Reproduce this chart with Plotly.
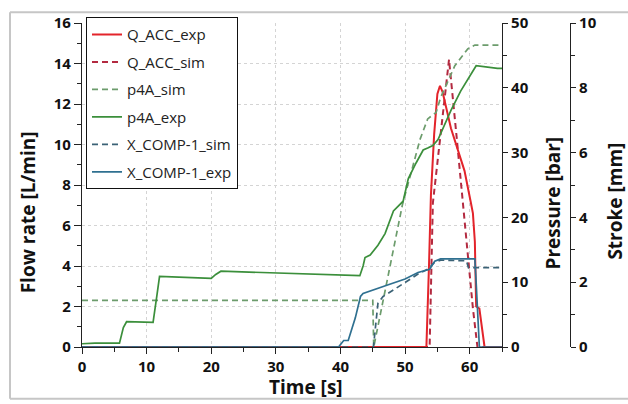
import plotly.graph_objects as go

# ---------------- data ----------------
q_acc_exp_t = [0, 53.3, 53.7, 54.0, 54.5, 55.0, 55.4, 55.8, 57.1, 58.2, 59.2, 60.2, 60.5, 60.8, 61.0, 61.5, 62.0, 62.3, 65]
q_acc_exp = [0, 0, 4.0, 7.5, 10.5, 12.5, 12.9, 12.6, 10.8, 9.7, 8.7, 7.1, 6.6, 5.2, 2.0, 1.9, 0.8, 0, 0]

q_acc_sim_t = [0, 53.8, 54.3, 56.8, 58.0, 58.9, 59.7, 60.5, 61.2, 65]
q_acc_sim = [0, 0, 7.1, 14.2, 10.3, 7.3, 4.3, 1.9, 0, 0]

p4a_sim_t = [0, 45.0, 45.15, 49.6, 51.5, 52.3, 53.5, 54.8, 55.5, 57.7, 59.7, 60.8, 65]
p4a_sim = [7.2, 7.2, 0, 22.0, 29.0, 32.0, 35.2, 36.2, 38.5, 43.4, 46.0, 46.6, 46.6]

p4a_exp_t = [0, 2.0, 5.8, 6.4, 6.9, 11.0, 11.6, 12.0, 20.0, 20.7, 21.5, 30.0, 43.0, 43.5, 43.8, 44.6, 45.8,
             46.9, 48.2, 49.7, 50.5, 51.7, 52.8, 53.5, 54.3, 55.1, 57.1, 58.6, 61.0, 64.3, 65]
p4a_exp = [0.5, 0.6, 0.6, 3.0, 3.9, 3.8, 8.0, 10.9, 10.6, 11.2, 11.7, 11.4, 11.0, 12.5, 13.8, 14.2, 15.7,
           17.5, 21.0, 22.5, 26.0, 28.4, 30.4, 30.7, 31.1, 32.0, 36.5, 39.5, 43.4, 43.0, 43.0]

x_comp_sim_t = [0, 45.1, 45.8, 46.6, 48.5, 50.5, 52.0, 53.5, 54.5, 55.5, 59.5, 59.8, 65]
x_comp_sim = [0, 0, 1.35, 1.56, 1.8, 2.07, 2.25, 2.4, 2.6, 2.68, 2.66, 2.45, 2.45]

x_comp_exp_t = [0, 39.7, 40.5, 41.2, 42.3, 43.1, 43.5, 45.4, 47.4, 50.0, 52.0, 53.8, 54.6, 55.5, 60.8, 61.0, 61.5, 65]
x_comp_exp = [0, 0, 0.2, 0.2, 0.9, 1.56, 1.65, 1.77, 1.92, 2.1, 2.3, 2.4, 2.65, 2.72, 2.72, 2.0, 0, 0]

x_ticks = [0, 10, 20, 30, 40, 50, 60]
flow_ticks = [0, 2, 4, 6, 8, 10, 12, 14, 16]
pressure_ticks = [0, 10, 20, 30, 40, 50]
stroke_ticks = [0, 2, 4, 6, 8, 10]

# ---------------- layout helpers ----------------
W_FIG, H_FIG = 628, 404
ML, MR, MT, MB = 82, 20, 15, 57
PW = W_FIG - ML - MR
PH = H_FIG - MT - MB


def px_x(p):
    return (p - ML) / PW


def px_y(p):
    return (H_FIG - MB - p) / PH


X_DOMAIN_END = px_x(502)
STROKE_POS = px_x(570)

C_RED = "#e3242b"
C_RED_D = "#b32a40"
C_GREEN = "#3b8f3b"
C_GREEN_D = "#6c9c6c"
C_BLUE = "#2f7090"
C_BLUE_D = "#3b6276"

fig = go.Figure()

series = [
    ("p4A_sim", p4a_sim_t, p4a_sim, "y2", C_GREEN_D, "dash", 1.7, 3),
    ("p4A_exp", p4a_exp_t, p4a_exp, "y2", C_GREEN, "solid", 1.7, 4),
    ("X_COMP-1_sim", x_comp_sim_t, x_comp_sim, "y3", C_BLUE_D, "dash", 1.7, 5),
    ("X_COMP-1_exp", x_comp_exp_t, x_comp_exp, "y3", C_BLUE, "solid", 1.7, 6),
    ("Q_ACC_sim", q_acc_sim_t, q_acc_sim, "y", C_RED_D, "dash", 2.0, 2),
    ("Q_ACC_exp", q_acc_exp_t, q_acc_exp, "y", C_RED, "solid", 2.0, 1),
]

for name, t, v, ax, col, dash, w, rank in series:
    fig.add_trace(go.Scatter(
        x=t, y=v, yaxis=ax, name=name, mode="lines",
        line=dict(color=col, width=w, dash="6px,4px" if dash == "dash" else "solid"),
        legendrank=rank, legendgroup=name,
    ))

tickfont = dict(family="Open Sans", size=15, color="#111111", weight="bold")
minor_common = dict(ticks="outside", ticklen=4, tickcolor="#222222", tickwidth=1, showgrid=False)

fig.update_layout(
    width=W_FIG, height=H_FIG,
    margin=dict(l=ML, r=MR, t=MT, b=MB, pad=0),
    paper_bgcolor="white", plot_bgcolor="white",
    showlegend=True,
    legend=dict(
        x=px_x(86), y=px_y(9), xanchor="left", yanchor="top",
        bgcolor="white", bordercolor="#111111", borderwidth=1,
        font=dict(family="Open Sans", size=15, color="#222222"),
        traceorder="grouped", tracegroupgap=5,
    ),
    xaxis=dict(
        domain=[0, X_DOMAIN_END], range=[0, 65], tickvals=x_ticks,
        showline=True, linecolor="#222222", linewidth=1.2,
        ticks="outside", ticklen=6, tickcolor="#222222",
        tickfont=tickfont,
        showgrid=True, gridcolor="#d4d4d4", griddash="dot", gridwidth=1,
        zeroline=False, layer="below traces",
        minor=dict(dtick=5, **minor_common),
    ),
    yaxis=dict(
        range=[0, 16], tickvals=flow_ticks,
        showline=True, linecolor="#222222", linewidth=1.2,
        ticks="outside", ticklen=7, tickcolor="#222222",
        tickfont=tickfont,
        showgrid=True, gridcolor="#d4d4d4", griddash="dot", gridwidth=1,
        zeroline=False, layer="below traces",
        minor=dict(dtick=1, **minor_common),
    ),
    yaxis2=dict(
        range=[0, 50], tickvals=pressure_ticks, overlaying="y", side="right", anchor="x",
        showline=True, linecolor="#222222", linewidth=1.2,
        ticks="outside", ticklen=5, tickcolor="#222222",
        tickfont=tickfont, showgrid=False, zeroline=False,
        minor=dict(dtick=5, **minor_common),
    ),
    yaxis3=dict(
        range=[0, 10], tickvals=stroke_ticks, overlaying="y", side="right", anchor="free",
        position=STROKE_POS,
        showline=True, linecolor="#222222", linewidth=1.2,
        ticks="outside", ticklen=5, tickcolor="#222222",
        tickfont=tickfont, showgrid=False, zeroline=False,
        minor=dict(dtick=1, **minor_common),
    ),
)

title_font = dict(family="Open Sans", size=19, color="#111111", weight="bold")
annotations = [
    dict(text="Time [s]", x=px_x(306), y=px_y(388), textangle=0),
    dict(text="Flow rate [L/min]", x=px_x(28), y=px_y(209), textangle=-90),
    dict(text="Pressure [bar]", x=px_x(553), y=px_y(200), textangle=-90),
    dict(text="Stroke [mm]", x=px_x(615), y=px_y(198), textangle=-90),
]
for a in annotations:
    fig.add_annotation(xref="paper", yref="paper", showarrow=False, font=title_font,
                       xanchor="center", yanchor="middle", **a)

# outer frame (partial, as in the reference screenshot)
frame = dict(type="line", xref="paper", yref="paper", line=dict(color="#c6c6c6", width=2), layer="below")
fig.add_shape(x0=px_x(10), x1=px_x(10), y0=px_y(4), y1=px_y(400), **frame)
fig.add_shape(x0=px_x(10), x1=px_x(640), y0=px_y(4), y1=px_y(4), **frame)
fig.add_shape(x0=px_x(10), x1=px_x(640), y0=px_y(400), y1=px_y(400), **frame)

# legend separator between the Q_ACC group and the rest
fig.add_shape(type="line", xref="paper", yref="paper", x0=px_x(88), x1=px_x(236),
              y0=px_y(76), y1=px_y(76), line=dict(color="#a05a5a", width=1), layer="above")

fig.write_html("out.html")
